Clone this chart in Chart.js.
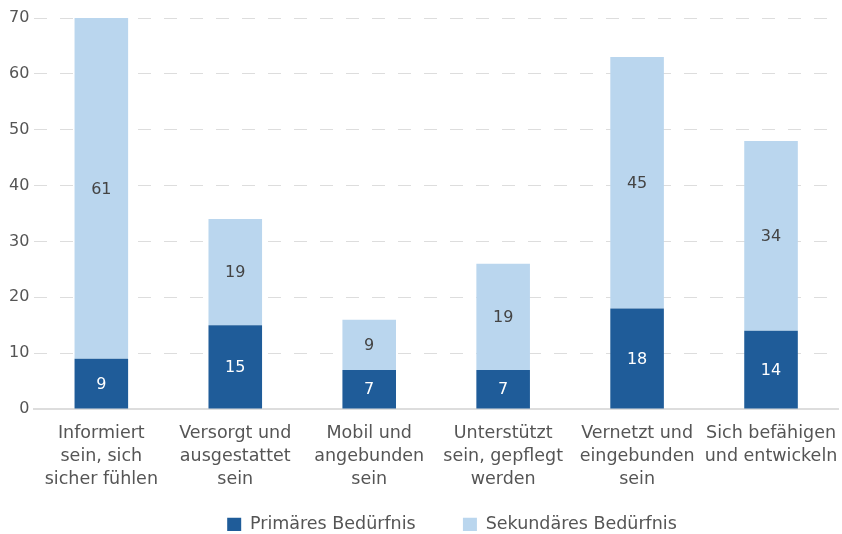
<!DOCTYPE html>
<html>
<head>
<meta charset="utf-8">
<script src="https://cdn.jsdelivr.net/npm/chart.js@4/dist/chart.umd.min.js"></script>
<style>
  html, body { margin: 0; padding: 0; background: #fff; }
  #wrap { width: 842px; height: 534px; }
</style>
</head>
<body>
<div id="wrap"><canvas id="chart"></canvas></div>
<script>
const categories = [
  ['Informiert', 'sein, sich', 'sicher fühlen'],
  ['Versorgt und', 'ausgestattet', 'sein'],
  ['Mobil und', 'angebunden', 'sein'],
  ['Unterstützt', 'sein, gepflegt', 'werden'],
  ['Vernetzt und', 'eingebunden', 'sein'],
  ['Sich befähigen', 'und entwickeln'],
]
const primary = [9, 15, 7, 7, 18, 14]
const secondary = [61, 19, 9, 19, 45, 34]
const yTicks = [0, 10, 20, 30, 40, 50, 60, 70]

const FONT = '"DejaVu Sans", sans-serif'
const TEXT = '#555'

// value labels in the middle of each segment
const barLabels = {
  id: 'barLabels',
  afterDatasetsDraw(chart) {
    const ctx = chart.ctx
    ctx.save()
    ctx.font = `16px ${FONT}`
    ctx.textAlign = 'center'
    ctx.textBaseline = 'middle'
    chart.data.datasets.forEach((ds, di) => {
      chart.getDatasetMeta(di).data.forEach((bar, i) => {
        ctx.fillStyle = di === 0 ? '#fff' : '#444'
        ctx.fillText(String(ds.data[i]), bar.x, (bar.y + bar.base) / 2 + 1)
      })
    })
    ctx.restore()
  },
}

// small legend box so the plot reaches further down; legend drawn a bit higher and to the right
const legendTweak = {
  id: 'legendTweak',
  beforeInit(chart) {
    const fit = chart.legend.fit
    chart.legend.fit = function () {
      fit.call(this)
      this.height = 43
    }
  },
  afterLayout(chart) {
    const lg = chart.legend
    lg.left += 31
    lg.right += 31
    lg.top = 491
    lg.bottom = lg.top + 40
  },
}

new Chart(document.getElementById('chart'), {
  type: 'bar',
  data: {
    labels: categories,
    datasets: [
      { label: 'Primäres Bedürfnis', data: primary, backgroundColor: '#1f5c99', barPercentage: 0.4, categoryPercentage: 1 },
      { label: 'Sekundäres Bedürfnis', data: secondary, backgroundColor: '#bad6ee', barPercentage: 0.4, categoryPercentage: 1 },
    ],
  },
  options: {
    responsive: true,
    maintainAspectRatio: false,
    animation: false,
    layout: { padding: { left: 4, right: 4, top: 18, bottom: 0 } },
    plugins: {
      legend: {
        position: 'bottom',
        labels: {
          color: TEXT,
          font: { family: FONT, size: 17.5 },
          boxWidth: 14,
          boxHeight: 14,
          padding: 25,
          generateLabels(chart) {
            const items = Chart.defaults.plugins.legend.labels.generateLabels(chart)
            items.forEach((it) => { it.lineWidth = 0 })
            items[0].text += '    '
            return items
          },
        },
      },
      tooltip: { enabled: false },
    },
    scales: {
      x: {
        stacked: true,
        // invisible tick marks give the gap under the axis without side padding
        grid: { display: false, drawTicks: true, tickLength: 13 },
        border: { color: '#ddd', width: 2 },
        ticks: {
          color: TEXT,
          font: { family: FONT, size: 17.5, lineHeight: 23 / 17.5 },
          maxRotation: 0,
          autoSkip: false,
          padding: 0,
        },
      },
      y: {
        stacked: true,
        min: 0,
        max: 70,
        afterBuildTicks: (axis) => { axis.ticks = yTicks.map((v) => ({ value: v })) },
        grid: { color: '#ddd', drawTicks: false },
        border: { display: false, dash: [13, 13] },
        ticks: { color: TEXT, font: { family: FONT, size: 16 }, padding: 5 },
      },
    },
  },
  plugins: [barLabels, legendTweak],
})
</script>
</body>
</html>
